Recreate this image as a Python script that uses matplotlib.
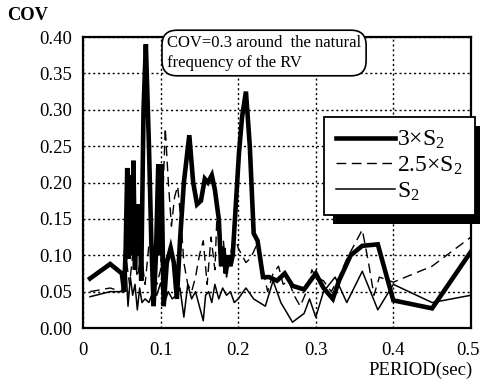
import matplotlib
matplotlib.use("Agg")
import matplotlib.pyplot as plt
from matplotlib.patches import Rectangle
from matplotlib.transforms import ScaledTranslation

plt.rcParams['font.family'] = ['Liberation Serif', 'DejaVu Serif']
plt.rcParams['mathtext.fontset'] = 'custom'
plt.rcParams['mathtext.rm'] = 'Liberation Serif'
plt.rcParams['mathtext.it'] = 'Liberation Serif:italic'

# 3 x S2 (thick)
thick_x = [0.009, 0.035, 0.050, 0.053, 0.055, 0.057, 0.059, 0.061, 0.063, 0.065,
           0.067, 0.069, 0.071, 0.073, 0.075, 0.078, 0.081, 0.085, 0.088, 0.091,
           0.094, 0.097, 0.099, 0.101, 0.104, 0.108, 0.113, 0.117, 0.121, 0.125,
           0.130, 0.137, 0.142, 0.147, 0.152, 0.157, 0.161, 0.166, 0.170, 0.175,
           0.178, 0.181, 0.184, 0.187, 0.190, 0.193, 0.197, 0.201, 0.205, 0.210,
           0.215, 0.220, 0.225, 0.232, 0.240, 0.250, 0.260, 0.270, 0.285, 0.300,
           0.310, 0.322, 0.330, 0.345, 0.360, 0.380, 0.400, 0.450, 0.500]
thick_y = [0.068, 0.088, 0.075, 0.050, 0.110, 0.220, 0.095, 0.210, 0.100, 0.230,
           0.080, 0.170, 0.100, 0.170, 0.065, 0.300, 0.390, 0.250, 0.120, 0.030,
           0.100, 0.225, 0.100, 0.225, 0.030, 0.090, 0.110, 0.090, 0.040, 0.120,
           0.200, 0.265, 0.200, 0.170, 0.175, 0.205, 0.200, 0.210, 0.190, 0.150,
           0.085, 0.110, 0.075, 0.100, 0.085, 0.100, 0.170, 0.240, 0.290, 0.325,
           0.250, 0.130, 0.120, 0.070, 0.070, 0.065, 0.075, 0.058, 0.053, 0.075,
           0.055, 0.040, 0.065, 0.100, 0.113, 0.115, 0.038, 0.027, 0.105]

# 2.5 x S2 (dashed)
dash_x = [0.009, 0.035, 0.050, 0.055, 0.060, 0.065, 0.070, 0.075, 0.080, 0.085,
          0.090, 0.095, 0.100, 0.103, 0.106, 0.110, 0.114, 0.118, 0.122, 0.126,
          0.130, 0.135, 0.140, 0.145, 0.150, 0.155, 0.160, 0.165, 0.170, 0.173,
          0.177, 0.181, 0.185, 0.190, 0.195, 0.200, 0.205, 0.210, 0.215, 0.220,
          0.226, 0.232, 0.238, 0.245, 0.252, 0.258, 0.265, 0.272, 0.280, 0.288,
          0.295, 0.300, 0.310, 0.320, 0.330, 0.340, 0.350, 0.360, 0.368, 0.375,
          0.382, 0.400, 0.450, 0.500]
dash_y = [0.050, 0.055, 0.050, 0.100, 0.060, 0.110, 0.070, 0.100, 0.060, 0.115,
          0.110, 0.060, 0.080, 0.180, 0.275, 0.200, 0.140, 0.180, 0.195, 0.150,
          0.090, 0.060, 0.050, 0.070, 0.100, 0.120, 0.060, 0.125, 0.080, 0.165,
          0.085, 0.120, 0.070, 0.100, 0.130, 0.110, 0.100, 0.090, 0.095, 0.105,
          0.120, 0.080, 0.050, 0.075, 0.085, 0.060, 0.065, 0.045, 0.030, 0.050,
          0.080, 0.070, 0.065, 0.050, 0.070, 0.095, 0.115, 0.135, 0.090, 0.045,
          0.070, 0.063, 0.085, 0.125]

# S2 (thin)
thin_x = [0.009, 0.035, 0.052, 0.055, 0.058, 0.061, 0.064, 0.067, 0.070, 0.073,
          0.076, 0.080, 0.085, 0.090, 0.095, 0.100, 0.105, 0.110, 0.115, 0.120,
          0.125, 0.130, 0.135, 0.140, 0.145, 0.150, 0.155, 0.158, 0.162, 0.166,
          0.170, 0.175, 0.180, 0.185, 0.190, 0.195, 0.200, 0.210, 0.220, 0.235,
          0.245, 0.255, 0.270, 0.285, 0.292, 0.300, 0.310, 0.325, 0.340, 0.360,
          0.380, 0.400, 0.450, 0.500]
thin_y = [0.043, 0.050, 0.050, 0.090, 0.030, 0.070, 0.045, 0.060, 0.025, 0.055,
          0.035, 0.040, 0.035, 0.050, 0.045, 0.062, 0.035, 0.050, 0.040, 0.045,
          0.055, 0.015, 0.060, 0.040, 0.050, 0.030, 0.010, 0.045, 0.050, 0.035,
          0.060, 0.040, 0.055, 0.045, 0.050, 0.035, 0.040, 0.055, 0.040, 0.030,
          0.065, 0.035, 0.008, 0.020, 0.040, 0.015, 0.050, 0.070, 0.035, 0.078,
          0.025, 0.060, 0.035, 0.045]

x_ticks = [0, 0.1, 0.2, 0.3, 0.4, 0.5]
x_labels = ['0', '0.1', '0.2', '0.3', '0.4', '0.5']
y_ticks = [0.00, 0.05, 0.10, 0.15, 0.20, 0.25, 0.30, 0.35, 0.40]

fig = plt.figure(figsize=(4.81, 3.84), dpi=100)
ax = fig.add_axes([0.1726, 0.1458, 0.8064, 0.7578])

l1, = ax.plot(thick_x, thick_y, color='black', lw=3.3, solid_joinstyle='miter')
l2, = ax.plot(dash_x, dash_y, color='black', lw=1.0, dashes=(7, 4))
l3, = ax.plot(thin_x, thin_y, color='black', lw=1.1)

ax.set_xlim(0, 0.5)
ax.set_ylim(0, 0.40)
ax.set_xticks(x_ticks)
ax.set_xticklabels(x_labels)
ax.set_yticks(y_ticks)
ax.set_yticklabels([f'{v:.2f}' for v in y_ticks])
ax.tick_params(labelsize=13.5, length=0)
ax.tick_params(axis='y', pad=8)
ax.tick_params(axis='x', pad=10)
ax.grid(True, color='black', linestyle=(0, (1.5, 2)), linewidth=1.0)
for s in ax.spines.values():
    s.set_linewidth(1.6)

# pull the last x label in so it stays inside the picture
last = ax.get_xticklabels()[-1]
last.set_transform(last.get_transform() + ScaledTranslation(-3 / 100, 0, fig.dpi_scale_trans))

fig.text(7 / 481, 1 - 15 / 384, 'COV', fontsize=13.3, fontweight='bold', va='center')
fig.text(473 / 481, 1 - 370 / 384, 'PERIOD(sec)', fontsize=13.5, ha='right', va='center')

fig.text(167 / 481, 1 - 53 / 384, 'COV=0.3 around  the natural\nfrequency of the RV',
         fontsize=12, va='center', ha='left', linespacing=1.3,
         bbox=dict(boxstyle='round,pad=0.3,rounding_size=0.9', fc='white',
                   ec='black', lw=1.2))

leg = fig.legend([l1, l2, l3], ['3$\\times$S$_2$', '2.5$\\times$S$_2$', 'S$_2$'],
                 loc='upper left', bbox_to_anchor=(324 / 481, 1 - 117 / 384),
                 borderaxespad=0, fontsize=17, handlelength=2.5, handletextpad=0.1,
                 labelspacing=0.15, borderpad=0.5, fancybox=False,
                 framealpha=1, edgecolor='black')
leg.get_frame().set_linewidth(1.3)

# heavy drop shadow under the legend box
fig.canvas.draw()
bb = leg.get_window_extent()
W, H = fig.bbox.width, fig.bbox.height
shadow = Rectangle(((bb.x0 + 9) / W, (bb.y0 - 9) / H), bb.width / W, bb.height / H,
                   transform=fig.transFigure, facecolor='black', edgecolor='none',
                   zorder=4)
fig.add_artist(shadow)

fig.savefig('out.png', dpi=100)
